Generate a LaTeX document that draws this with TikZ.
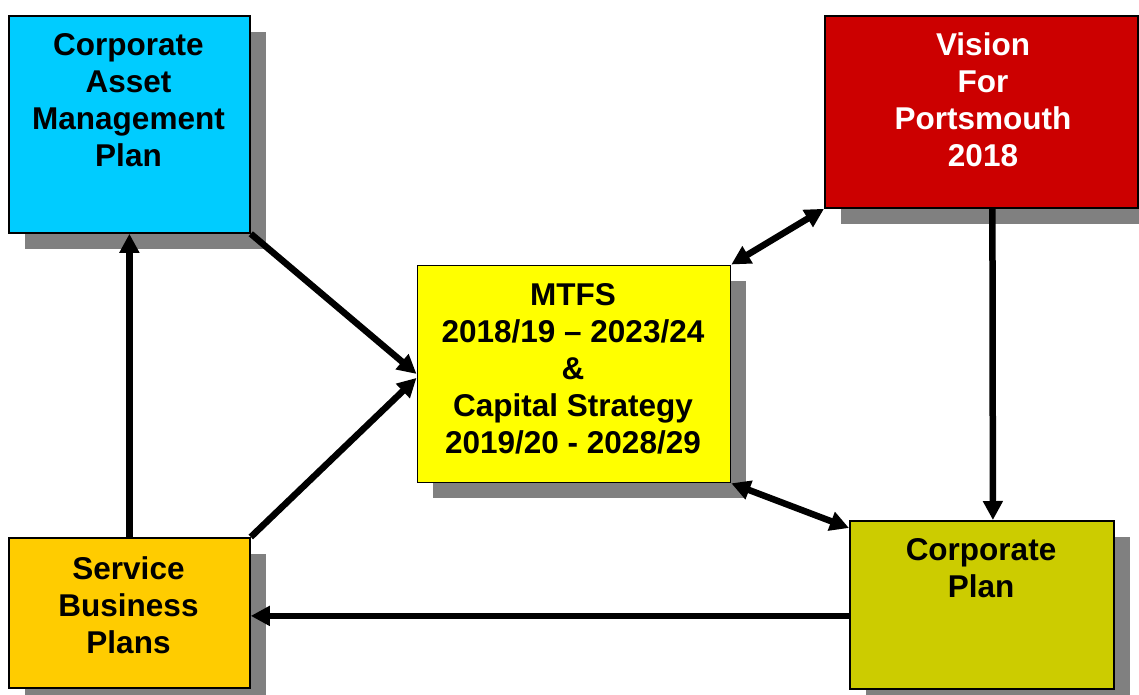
\documentclass[tikz,border=0pt]{standalone}
\usepackage{fontspec}
\setmainfont{Liberation Sans}
\usetikzlibrary{arrows.meta,shadows,calc}
\definecolor{campc}{HTML}{00CCFF}
\definecolor{visionc}{HTML}{CC0000}
\definecolor{mtfsc}{HTML}{FFFF00}
\definecolor{sbpc}{HTML}{FFCC00}
\definecolor{cpc}{HTML}{CCCC00}
\definecolor{shadowc}{HTML}{808080}
\begin{document}
\begin{tikzpicture}[x=1pt,y=-1pt,
  box/.style={draw=black, line width=1.8pt, anchor=north west, inner sep=0pt,
    drop shadow={shadow xshift=16pt, shadow yshift=-16pt, fill=shadowc, opacity=1}},
  lbl/.style={font=\bfseries\fontsize{31.5}{37}\selectfont, align=center, inner sep=0pt},
  tipa/.tip={Triangle[length=19pt,width=19pt]},
  arr/.style={line width=6.5pt, -tipa},
  darr/.style={line width=6.5pt, tipa-tipa}]
\useasboundingbox (0,0) rectangle (1139,695);
% boxes
\node[box, fill=campc, minimum width=241pt, minimum height=217pt] (camp) at (8,15) {};
\node[box, fill=visionc, minimum width=313pt, minimum height=192pt] (vision) at (824,15) {};
\node[box, fill=mtfsc, minimum width=313pt, minimum height=217pt] (mtfs) at (416.5,264.5) {};
\node[box, fill=sbpc, minimum width=241pt, minimum height=150pt] (sbp) at (8,537) {};
\node[box, fill=cpc, minimum width=264pt, minimum height=168pt] (cp) at (849,520) {};
% texts
\node[lbl] (camptext) at (128.5,100) {Corporate\\Asset\\Management\\Plan};
\node[lbl, text=white] (visiontext) at (983,100) {Vision\\For\\Portsmouth\\2018};
\node[lbl] (mtfstext) at (573,369) {MTFS\\2018/19 – 2023/24\\\&\\Capital Strategy\\2019/20 - 2028/29};
\node[lbl] (sbptext) at (128.5,605) {Service\\Business\\Plans};
\node[lbl] (cptext) at (981,568.5) {Corporate\\Plan};
% connectors
\draw[arr] (camp.south east) -- (mtfs.west);
\draw[arr] (sbp.north east) -- ([yshift=-4pt]mtfs.west);
\draw[arr] (sbp.north) -- (camp.south);
\draw[darr] (vision.south west) -- (mtfs.north east);
\draw[arr] ([xshift=11pt]vision.south) -- ([xshift=11pt]cp.north);
\draw[darr] (mtfs.south east) -- ([yshift=-8pt]cp.north west);
\coordinate (sbpin) at ([yshift=-3pt]sbp.east);
\draw[arr] (cp.west |- sbpin) -- (sbpin);
\end{tikzpicture}
\end{document}
